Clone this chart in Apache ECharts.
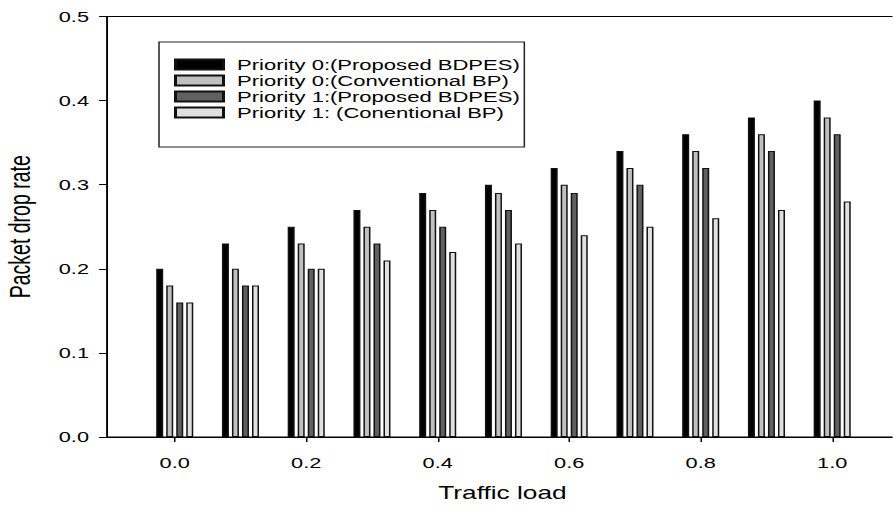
<!DOCTYPE html>
<html>
<head>
<meta charset="utf-8">
<script src="https://cdn.jsdelivr.net/npm/echarts@6/dist/echarts.min.js"></script>
<style>
html,body{margin:0;padding:0;background:#fff;overflow:hidden;width:893px;height:512px;}
#chart{width:595.33px;height:512px;transform:scaleX(1.5);transform-origin:0 0;}
</style>
</head>
<body>
<div id="chart"></div>
<script>
// Data
const trafficLoad = [0.0, 0.1, 0.2, 0.3, 0.4, 0.5, 0.6, 0.7, 0.8, 0.9, 1.0];
const p0Proposed = [0.20, 0.23, 0.25, 0.27, 0.29, 0.30, 0.32, 0.34, 0.36, 0.38, 0.40];
const p0Conventional = [0.18, 0.20, 0.23, 0.25, 0.27, 0.29, 0.30, 0.32, 0.34, 0.36, 0.38];
const p1Proposed = [0.16, 0.18, 0.20, 0.23, 0.25, 0.27, 0.29, 0.30, 0.32, 0.34, 0.36];
const p1Conventional = [0.16, 0.18, 0.20, 0.21, 0.22, 0.23, 0.24, 0.25, 0.26, 0.27, 0.28];
const xTickValues = [0.0, 0.2, 0.4, 0.6, 0.8, 1.0];
const seriesNames = [
  'Priority 0:(Proposed BDPES)',
  'Priority 0:(Conventional BP)',
  'Priority 1:(Proposed BDPES)',
  'Priority 1: (Conentional BP)'
];
const seriesColors = ['#000000', '#c0c0c0', '#606060', '#e0e0e0'];

const FONT = "'Liberation Sans', Arial, sans-serif";
const allSeries = [p0Proposed, p0Conventional, p1Proposed, p1Conventional];

const chart = echarts.init(document.getElementById('chart'), null, {renderer: 'svg'});
chart.setOption({
  animation: false,
  backgroundColor: '#ffffff',
  textStyle: {fontFamily: FONT, color: '#000'},
  grid: {
    left: 71.33, top: 16.5, width: 527.3, height: 420.5,
    outerBoundsMode: 'none', containLabel: false,
    show: true, borderColor: '#000', borderWidth: 1, backgroundColor: 'transparent'
  },
  legend: {
    left: 106, top: 42,
    orient: 'vertical',
    icon: 'rect',
    itemWidth: 32, itemHeight: 10, itemGap: 1,
    padding: [15, 3, 27, 10],
    borderColor: '#222', borderWidth: 1,
    textStyle: {fontFamily: FONT, fontSize: 14.7, color: '#000', lineHeight: 14, padding: [0, 0, 0, 4]},
    data: seriesNames
  },
  xAxis: {
    type: 'value',
    min: -0.103, max: 1.1,
    name: 'Traffic load',
    nameLocation: 'middle',
    nameGap: 47,
    nameTextStyle: {fontFamily: FONT, fontSize: 17.5, color: '#000'},
    axisLine: {show: true, onZero: false, lineStyle: {color: '#000', width: 1}},
    axisTick: {show: true, customValues: xTickValues, length: 5, lineStyle: {color: '#000'}},
    axisLabel: {
      customValues: xTickValues, margin: 18,
      fontFamily: FONT, fontSize: 14.5, color: '#000',
      formatter: v => v.toFixed(1)
    },
    splitLine: {show: false}
  },
  yAxis: {
    type: 'value',
    min: 0, max: 0.5, interval: 0.1,
    name: 'Packet drop rate',
    nameLocation: 'middle',
    nameGap: 48,
    nameTextStyle: {fontFamily: FONT, fontSize: 19.5, color: '#000'},
    axisLine: {show: true, onZero: false, lineStyle: {color: '#000', width: 1}},
    axisTick: {show: true, length: 5.3, lineStyle: {color: '#000'}},
    axisLabel: {
      margin: 12, fontFamily: FONT, fontSize: 14.5, color: '#000',
      formatter: v => v.toFixed(1)
    },
    splitLine: {show: false}
  },
  series: allSeries.map((vals, i) => ({
    name: seriesNames[i],
    type: 'bar',
    barWidth: 4.67,
    barGap: '43%',
    data: trafficLoad.map((x, j) => [x, vals[j]]),
    itemStyle: {color: seriesColors[i], borderColor: '#111', borderWidth: 1}
  }))
});
</script>
</body>
</html>
